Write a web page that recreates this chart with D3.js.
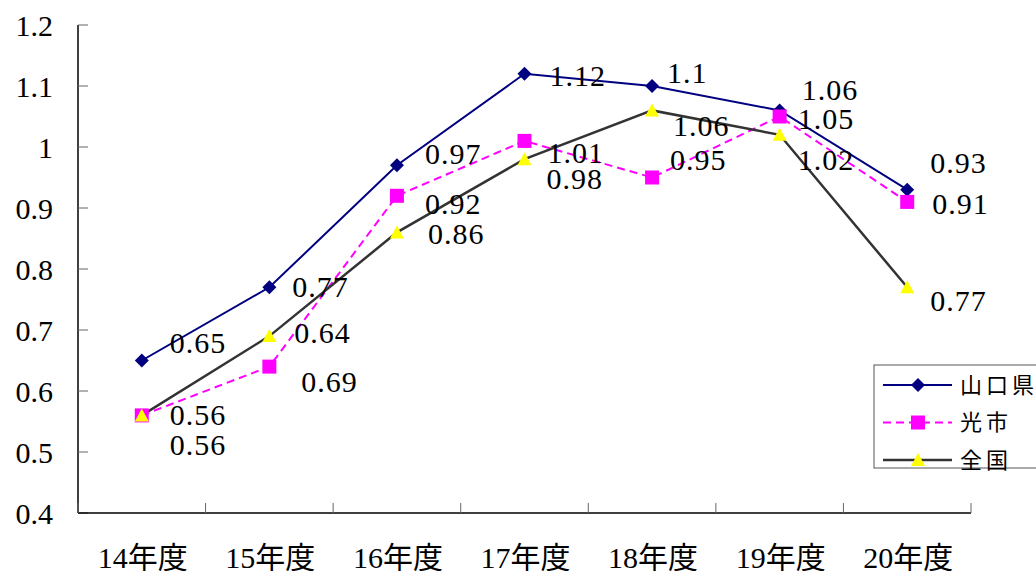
<!DOCTYPE html>
<html>
<head>
<meta charset="utf-8">
<script src="https://cdn.jsdelivr.net/npm/d3@7"></script>
<style>
  body { margin: 0; background: #fff; }
  svg { display: block; }
</style>
</head>
<body>
<svg id="chart" width="1036" height="571"></svg>
<script>
const categories = ["14年度", "15年度", "16年度", "17年度", "18年度", "19年度", "20年度"];
const yamaguchi = [0.65, 0.77, 0.97, 1.12, 1.1, 1.06, 0.93];
const hikari = [0.56, 0.64, 0.92, 1.01, 0.95, 1.05, 0.91];
const zenkoku = [0.56, 0.69, 0.86, 0.98, 1.06, 1.02, 0.77];
const yTicks = [0.4, 0.5, 0.6, 0.7, 0.8, 0.9, 1, 1.1, 1.2];

// label nudges (px from the point), hand placed like the original
const labelNudge = {
  yamaguchi: [[28, -18], [23, -1], [28, -12], [25, 2], [15, -14], [22, -21], [23, -27]],
  hikari: [[28, -1], [25, -34], [28, 8], [23, 12], [18, -18], [18, 2], [25, 2]],
  zenkoku: [[28, 29], [32, 45], [31, 1], [22, 19], [21, 15], [18, 25], [23, 13]]
};

const serifFont = "'Liberation Serif', 'Times New Roman', 'DejaVu Serif', 'Noto Sans CJK JP', serif";

const series = [
  { key: "yamaguchi", name: "山口県", values: yamaguchi, stroke: "#000080", width: 2, dash: null, marker: "diamond", fill: "#000080" },
  { key: "hikari", name: "光市", values: hikari, stroke: "#ff00ff", width: 2, dash: "8,5", marker: "square", fill: "#ff00ff" },
  { key: "zenkoku", name: "全国", values: zenkoku, stroke: "#333333", width: 2.5, dash: null, marker: "triangle", fill: "#ffff00" }
];

const svg = d3.select("#chart");
const margin = { top: 25, right: 65, bottom: 58, left: 78 };
const width = 1036, height = 571;

const x = d3.scaleBand().domain(categories).range([margin.left, width - margin.right]);
const y = d3.scaleLinear().domain([0.4, 1.2]).range([height - margin.bottom, margin.top]);
const cx = (c) => x(c) + x.bandwidth() / 2;

function markerPath(type, px, py) {
  const s = 7;
  if (type === "diamond") return `M${px},${py - s}L${px + s},${py}L${px},${py + s}L${px - s},${py}Z`;
  if (type === "square") return `M${px - s},${py - s}h${2 * s}v${2 * s}h${-2 * s}Z`;
  return `M${px},${py - s}L${px + s},${py + s - 1}L${px - s},${py + s - 1}Z`;
}

// y axis
const yAxis = svg.append("g").attr("transform", `translate(${margin.left},0)`);
yAxis.append("line")
  .attr("x1", 0).attr("x2", 0)
  .attr("y1", y(1.2)).attr("y2", y(0.4))
  .attr("stroke", "#000").attr("stroke-width", 1.5);
yAxis.selectAll(".ytick")
  .data(yTicks)
  .join("line")
  .attr("x1", 0).attr("x2", 10)
  .attr("y1", (d) => y(d)).attr("y2", (d) => y(d))
  .attr("stroke", "#666");
yAxis.selectAll(".ylabel")
  .data(yTicks)
  .join("text")
  .attr("x", -25)
  .attr("y", (d) => y(d))
  .attr("dy", "0.35em")
  .attr("text-anchor", "end")
  .attr("font-family", serifFont)
  .attr("font-size", 30)
  .text((d) => d3.format("")(d));

// x axis
const xAxis = svg.append("g").attr("transform", `translate(0,${y(0.4)})`);
xAxis.append("line")
  .attr("x1", margin.left).attr("x2", width - margin.right)
  .attr("stroke", "#000").attr("stroke-width", 1.5);
xAxis.selectAll(".xtick")
  .data(categories.concat([null]))
  .join("line")
  .attr("x1", (d) => d === null ? width - margin.right : x(d))
  .attr("x2", (d) => d === null ? width - margin.right : x(d))
  .attr("y1", 0).attr("y2", -10)
  .attr("stroke", "#666");
xAxis.selectAll(".xlabel")
  .data(categories)
  .join("text")
  .attr("x", (d) => cx(d) + 1)
  .attr("y", 55)
  .attr("text-anchor", "middle")
  .attr("font-family", serifFont)
  .attr("font-size", 30)
  .text((d) => d);

// lines
const line = d3.line().x((d, i) => cx(categories[i])).y((d) => y(d));
series.forEach((s) => {
  svg.append("path")
    .datum(s.values)
    .attr("d", line)
    .attr("fill", "none")
    .attr("stroke", s.stroke)
    .attr("stroke-width", s.width)
    .attr("stroke-dasharray", s.dash);
});

// markers
series.forEach((s) => {
  svg.append("g")
    .selectAll("path")
    .data(s.values)
    .join("path")
    .attr("d", (d, i) => markerPath(s.marker, cx(categories[i]), y(d)))
    .attr("fill", s.fill);
});

// data labels
series.forEach((s) => {
  svg.append("g")
    .selectAll("text")
    .data(s.values)
    .join("text")
    .attr("x", (d, i) => cx(categories[i]) + labelNudge[s.key][i][0])
    .attr("y", (d, i) => y(d) + labelNudge[s.key][i][1])
    .attr("dy", "0.35em")
    .attr("font-family", serifFont)
    .attr("font-size", 30)
    .attr("letter-spacing", 1)
    .text((d) => d);
});

// legend
const legend = svg.append("g").attr("transform", "translate(874,365)");
legend.append("rect")
  .attr("width", 200).attr("height", 103)
  .attr("fill", "#fff").attr("stroke", "#555").attr("stroke-width", 1);
const rows = legend.selectAll(".row")
  .data(series)
  .join("g")
  .attr("transform", (d, i) => `translate(0,${20 + i * 37.5})`);
rows.append("line")
  .attr("x1", 9).attr("x2", 78)
  .attr("stroke", (d) => d.stroke)
  .attr("stroke-width", (d) => d.width)
  .attr("stroke-dasharray", (d) => d.dash);
rows.append("path")
  .attr("d", (d) => markerPath(d.marker, 44, 0))
  .attr("fill", (d) => d.fill);
rows.append("text")
  .attr("x", 86)
  .attr("dy", "0.36em")
  .attr("font-family", "'Noto Sans CJK JP', sans-serif")
  .attr("font-size", 22)
  .attr("letter-spacing", 4)
  .text((d) => d.name);
</script>
</body>
</html>
